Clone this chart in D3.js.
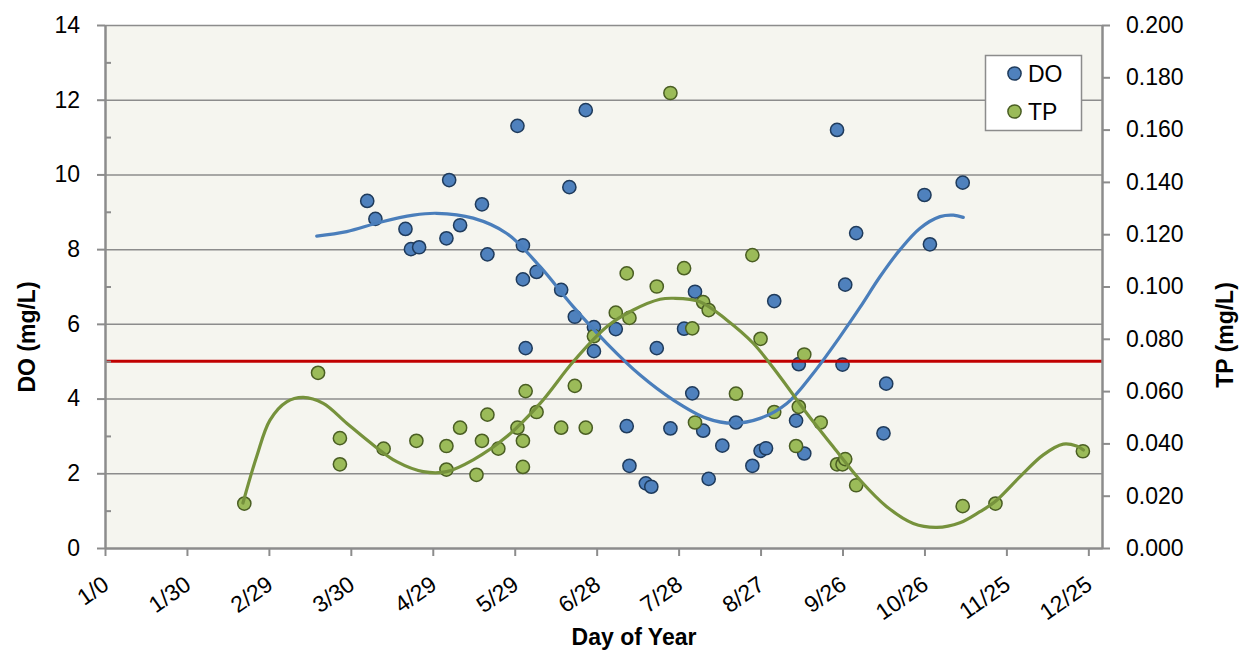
<!DOCTYPE html>
<html>
<head>
<meta charset="utf-8">
<script src="https://cdn.jsdelivr.net/npm/d3@7"></script>
<style>
  html, body { margin: 0; padding: 0; background: #ffffff; }
  svg { display: block; }
  text { font-family: "Liberation Sans", Arial, sans-serif; fill: #000; }
</style>
</head>
<body>
<svg id="chart" width="1239" height="652"></svg>
<script>
// Dissolved oxygen samples: day of year and concentration (mg/L)
const doDays = [96, 99, 110, 112, 115, 125, 126, 130, 138, 140, 151, 153, 153, 154, 158, 167, 170, 172, 176, 179, 179,
  187, 191, 192, 198, 200, 202, 207, 212, 215, 216, 219, 221, 226, 231, 237, 240, 242, 245, 253, 254, 256,
  268, 271, 270, 275, 285, 286, 300, 302, 314];
const doValues = [9.29, 8.81, 8.54, 8.00, 8.05, 8.29, 9.85, 8.64, 9.20, 7.86, 11.30, 8.10, 7.19, 5.35, 7.39, 6.91, 9.66, 6.19, 11.72, 5.91, 5.27,
  5.86, 3.26, 2.20, 1.73, 1.64, 5.35, 3.20, 5.87, 4.14, 6.86, 3.14, 1.85, 2.74, 3.36, 2.20, 2.60, 2.67, 6.61, 3.41, 4.92, 2.53,
  11.19, 7.05, 4.91, 8.43, 3.07, 4.40, 9.45, 8.13, 9.78];

// Total phosphorus samples: day of year and concentration (mg/L)
const tpDays = [51, 78, 86, 86, 102, 114, 125, 125, 130, 136, 138, 140, 144, 151, 153, 153, 154, 158, 167, 172, 176, 179,
  187, 191, 192, 202, 207, 212, 215, 216, 219, 221, 231, 237, 240, 245, 253, 254, 256, 262, 268, 270, 271, 275, 314, 326, 358];
const tpValues = [0.017, 0.067, 0.042, 0.032, 0.038, 0.041, 0.039, 0.030, 0.046, 0.028, 0.041, 0.051, 0.038, 0.046, 0.041, 0.031, 0.060, 0.052,
  0.046, 0.062, 0.046, 0.081, 0.090, 0.105, 0.088, 0.100, 0.174, 0.107, 0.084, 0.048, 0.094, 0.091, 0.059, 0.112, 0.080, 0.052,
  0.039, 0.054, 0.074, 0.048, 0.032, 0.032, 0.034, 0.024, 0.016, 0.017, 0.037];

// Polynomial trend curves
const doTrendDays = [77.5, 88.5, 100.7, 112.9, 121.4, 134.8, 147.1, 159.3, 171.4, 183.7, 195.9, 208.1, 220.3, 230.0, 239.8,
  249.6, 259.3, 269.1, 276.4, 283.7, 291.0, 298.4, 305.7, 310.6, 314.2];
const doTrendValues = [8.35, 8.47, 8.72, 8.91, 8.96, 8.83, 8.42, 7.53, 6.46, 5.48, 4.63, 3.96, 3.47, 3.34, 3.47,
  3.87, 4.68, 5.66, 6.44, 7.26, 7.98, 8.56, 8.87, 8.91, 8.85];
const tpTrendDays = [50.5, 55.5, 60.4, 66.5, 72.6, 79.9, 88.5, 98.2, 106.8, 116.5, 125.1, 134.8, 147.1, 159.3, 171.4, 183.7,
  193.4, 203.2, 208.1, 217.8, 227.6, 237.3, 247.1, 256.9, 266.6, 276.4, 286.2, 295.9, 304.5, 313.0, 320.3, 325.8, 335.0,
  343.5, 350.8, 355.7, 358.2];
const tpTrendValues = [0.0172, 0.0349, 0.0489, 0.0559, 0.0576, 0.0553, 0.0477, 0.0394, 0.0330, 0.0292, 0.0292, 0.0337, 0.0426,
  0.0553, 0.0712, 0.0846, 0.0910, 0.0951, 0.0955, 0.0942, 0.0872, 0.0783, 0.0655, 0.0515, 0.0387, 0.0260, 0.0158, 0.0094,
  0.0079, 0.0097, 0.0139, 0.0177, 0.0273, 0.0356, 0.0397, 0.0390, 0.0375];

// DO water-quality standard (mg/L)
const doStandard = 5;

// Axis ticks
const dayTicks = [0, 30, 60, 90, 120, 150, 180, 210, 240, 270, 300, 330, 360];
const dayLabels = ["1/0", "1/30", "2/29", "3/30", "4/29", "5/29", "6/28", "7/28", "8/27", "9/26", "10/26", "11/25", "12/25"];
const doTicks = [0, 2, 4, 6, 8, 10, 12, 14];
const doMinorTicks = [1, 3, 5, 7, 9, 11, 13];
const tpTicks = [0, 0.02, 0.04, 0.06, 0.08, 0.10, 0.12, 0.14, 0.16, 0.18, 0.20];

const svg = d3.select("#chart");
const plotLeft = 105, plotRight = 1102, plotTop = 25, plotBottom = 548;

const x = d3.scaleLinear().domain([0, 365]).range([plotLeft, plotRight]);
const yDO = d3.scaleLinear().domain([0, 14]).range([plotBottom, plotTop]);
const yTP = d3.scaleLinear().domain([0, 0.2]).range([plotBottom, plotTop]);

const gridColor = "#8c8c8c";

// plot area
svg.append("rect")
  .attr("x", plotLeft).attr("y", plotTop)
  .attr("width", plotRight - plotLeft).attr("height", plotBottom - plotTop)
  .attr("fill", "#f5f5ef");

// horizontal gridlines
const grid = svg.append("g")
  .attr("transform", `translate(${plotLeft},0)`)
  .call(d3.axisLeft(yDO).tickValues(doTicks.slice(1)).tickSize(-(plotRight - plotLeft)).tickFormat(""));
grid.select(".domain").remove();
grid.selectAll("line").attr("stroke", gridColor).attr("stroke-width", 1.5);

// markers
svg.append("g").selectAll("circle")
  .data(doDays.map((d, i) => [d, doValues[i]]))
  .join("circle")
  .attr("cx", d => x(d[0])).attr("cy", d => yDO(d[1])).attr("r", 6.6)
  .attr("fill", "#4f81bd").attr("stroke", "#1f3b5c").attr("stroke-width", 1.5);

svg.append("g").selectAll("circle")
  .data(tpDays.map((d, i) => [d, tpValues[i]]))
  .join("circle")
  .attr("cx", d => x(d[0])).attr("cy", d => yTP(d[1])).attr("r", 6.6)
  .attr("fill", "#9bbb59").attr("stroke", "#4a5e23").attr("stroke-width", 1.5);

// standard line
svg.append("line")
  .attr("x1", plotLeft).attr("x2", plotRight)
  .attr("y1", yDO(doStandard)).attr("y2", yDO(doStandard))
  .attr("stroke", "#c00000").attr("stroke-width", 3);

// trend curves
const line = d3.line().curve(d3.curveCatmullRom.alpha(0.5));
svg.append("path")
  .attr("d", line(doTrendDays.map((d, i) => [x(d), yDO(doTrendValues[i])])))
  .attr("fill", "none").attr("stroke", "#4a7ebb").attr("stroke-width", 3.2).attr("stroke-linecap", "round");
svg.append("path")
  .attr("d", line(tpTrendDays.map((d, i) => [x(d), yTP(tpTrendValues[i])])))
  .attr("fill", "none").attr("stroke", "#76923c").attr("stroke-width", 3.2).attr("stroke-linecap", "round");

// axes
function styleAxis(g) {
  g.select(".domain").attr("stroke", gridColor).attr("stroke-width", 2.5);
  g.selectAll(".tick line").attr("stroke", gridColor).attr("stroke-width", 2);
  g.selectAll(".tick text").attr("font-size", 23).attr("fill", "#000")
    .attr("font-family", "'Liberation Sans', Arial, sans-serif");
}

const axL = svg.append("g").attr("transform", `translate(${plotLeft},0)`)
  .call(d3.axisLeft(yDO).tickValues(doTicks).tickSize(8).tickSizeOuter(0).tickPadding(17).tickFormat(d3.format("d")));
styleAxis(axL);

const axLMinor = svg.append("g").attr("transform", `translate(${plotLeft},0)`)
  .call(d3.axisRight(yDO).tickValues(doMinorTicks).tickSize(6).tickFormat(""));
axLMinor.select(".domain").remove();
axLMinor.selectAll("line").attr("stroke", gridColor).attr("stroke-width", 2);

const axR = svg.append("g").attr("transform", `translate(${plotRight},0)`)
  .call(d3.axisRight(yTP).tickValues(tpTicks).tickSize(8).tickSizeOuter(0).tickPadding(16).tickFormat(d3.format(".3f")));
styleAxis(axR);

const axB = svg.append("g").attr("transform", `translate(0,${plotBottom})`)
  .call(d3.axisBottom(x).tickValues(dayTicks).tickSize(8).tickSizeOuter(0).tickFormat((d, i) => dayLabels[i]));
styleAxis(axB);
axB.selectAll(".tick text")
  .attr("text-anchor", "end")
  .attr("dy", null).attr("y", null)
  .attr("transform", "translate(5,40) rotate(-35)");

// axis titles
svg.append("text")
  .attr("transform", "translate(35,337) rotate(-90)")
  .attr("text-anchor", "middle").attr("font-size", 23).attr("font-weight", "bold")
  .text("DO (mg/L)");
svg.append("text")
  .attr("transform", "translate(1233,335) rotate(-90)")
  .attr("text-anchor", "middle").attr("font-size", 23).attr("font-weight", "bold")
  .text("TP (mg/L)");
svg.append("text")
  .attr("x", 634).attr("y", 645)
  .attr("text-anchor", "middle").attr("font-size", 23).attr("font-weight", "bold")
  .text("Day of Year");

// legend
const legend = svg.append("g");
legend.append("rect")
  .attr("x", 985.5).attr("y", 55.5).attr("width", 96).attr("height", 75)
  .attr("fill", "#ffffff").attr("stroke", gridColor).attr("stroke-width", 1.5);
const legendItems = [
  { name: "DO", fill: "#4f81bd", stroke: "#1f3b5c" },
  { name: "TP", fill: "#9bbb59", stroke: "#4a5e23" }
];
legendItems.forEach((it, i) => {
  const cy = 73.5 + i * 38;
  legend.append("circle").attr("cx", 1014.5).attr("cy", cy).attr("r", 6.6)
    .attr("fill", it.fill).attr("stroke", it.stroke).attr("stroke-width", 1.5);
  legend.append("text").attr("x", 1028).attr("y", cy + 8.5).attr("font-size", 23).text(it.name);
});
</script>
</body>
</html>
